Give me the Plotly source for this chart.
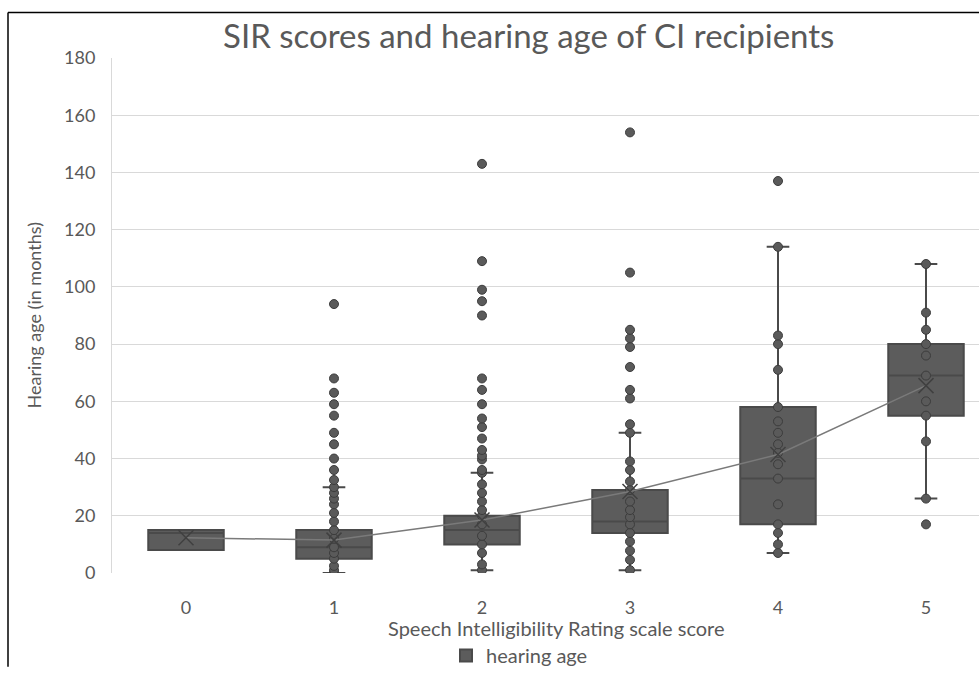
import plotly.graph_objects as go

# ---- data ----
scores = [0, 1, 2, 3, 4, 5]
q1 = [8, 5, 10, 14, 17, 55]
median = [14, 9, 15, 18, 33, 69]
q3 = [15, 15, 20, 29, 58, 80]
lower_whisker = [8, 0, 1, 1, 7, 26]
upper_whisker = [15, 30, 35, 49, 114, 108]
mean = [12.3, 11.5, 18.5, 28.5, 41.4, 65.5]

inner_0 = []
inner_1 = [0, 1, 2.5, 5, 7, 9, 12, 15, 18, 21, 24, 26, 28, 30]
inner_2 = [1, 3, 7, 10, 13, 17, 20, 22, 25, 28, 31, 35]
inner_3 = [1, 4.6, 7.8, 11, 14, 17, 19.5, 22, 25, 29, 32, 36, 39, 49]
inner_4 = [7, 10, 14, 17, 24, 33, 38, 42, 45, 49, 53, 58, 71, 80, 83, 114]
inner_5 = [26, 46, 55, 60, 69, 76, 80, 85, 91, 108]

outliers_0 = []
outliers_1 = [32.5, 36, 40, 45, 49, 55, 59, 63, 68, 94]
outliers_2 = [36, 39.7, 41, 43, 47, 51, 54, 59, 64, 68, 90, 95, 99, 109, 143]
outliers_3 = [52, 61, 64, 72, 79, 82, 85, 105, 154]
outliers_4 = [137]
outliers_5 = [17]

y_ticks = [0, 20, 40, 60, 80, 100, 120, 140, 160, 180]

title_text = "SIR scores and hearing age of CI recipients"
x_title = "Speech Intelligibility Rating scale score"
y_title = "Hearing age (in months)"
series_name = "hearing age"

# ---- styling ----
FONT = "Lato"
TXT = "#595959"
BOX_FILL = "#5c5c5c"
BOX_LINE = "#4a4a4a"
GRID = "#d9d9d9"

inner_all = [inner_0, inner_1, inner_2, inner_3, inner_4, inner_5]
outliers_all = [outliers_0, outliers_1, outliers_2, outliers_3, outliers_4, outliers_5]

fig = go.Figure()

fig.add_trace(go.Box(
    x=scores, q1=q1, median=median, q3=q3,
    lowerfence=lower_whisker, upperfence=upper_whisker,
    width=0.51, whiskerwidth=0.3,
    fillcolor=BOX_FILL, line=dict(color=BOX_LINE, width=2),
    boxpoints=False, showlegend=False, name=series_name,
))

pts_x, pts_y = [], []
for s, inn, out in zip(scores, inner_all, outliers_all):
    for v in inn + out:
        pts_x.append(s)
        pts_y.append(v)

fig.add_trace(go.Scatter(
    x=pts_x, y=pts_y, mode="markers",
    marker=dict(symbol="circle", size=9, color="#5a5a5a",
                line=dict(color="#3c3c3c", width=1)),
    showlegend=False, hoverinfo="y",
))

fig.add_trace(go.Scatter(
    x=scores, y=mean, mode="lines+markers",
    line=dict(color="#7a7a7a", width=1.5),
    marker=dict(symbol="x-thin", size=15, line=dict(color="#404040", width=1.5)),
    showlegend=False,
))

# legend entry (square)
fig.add_trace(go.Scatter(
    x=[None], y=[None], mode="markers", name=series_name,
    marker=dict(symbol="square", size=17, color=BOX_FILL,
                line=dict(color=BOX_LINE, width=1)),
    showlegend=True,
))

L, T, B = 112, 58, 95
W, H = 979, 675
plot_w = W - L
plot_h = H - T - B
px_per_unit = 148.0
x_max = -0.5 + plot_w / px_per_unit

def px_x(p):
    return (p - L) / plot_w

def px_y(p):
    return (H - B - p) / plot_h

fig.update_layout(
    width=W, height=H,
    margin=dict(l=L, r=0, t=T, b=B, pad=0),
    paper_bgcolor="white", plot_bgcolor="white",
    font=dict(family=FONT, color=TXT, size=17),
    showlegend=True,
    legend=dict(orientation="h", x=px_x(446), y=px_y(644), xanchor="left", yanchor="top",
                font=dict(size=20, color=TXT, family=FONT), itemsizing="constant",
                bgcolor="rgba(0,0,0,0)"),
    xaxis=dict(range=[-0.5, x_max], tickmode="array", tickvals=scores,
               ticktext=[str(s) for s in scores], showgrid=False, zeroline=False,
               showline=False, ticks="", tickfont=dict(size=18, color=TXT, family=FONT),
               ticklabelstandoff=22, fixedrange=True),
    yaxis=dict(range=[0, 180], tickmode="array", tickvals=y_ticks,
               showgrid=True, gridcolor=GRID, gridwidth=1, zeroline=False,
               showline=True, linecolor=GRID, linewidth=1, ticks="",
               tickfont=dict(size=18, color=TXT, family=FONT),
               ticklabelstandoff=12, fixedrange=True),
    annotations=[
        dict(text=title_text, x=px_x(528), y=px_y(35), xref="paper", yref="paper",
             showarrow=False, xanchor="center", yanchor="middle",
             font=dict(size=33, color=TXT, family=FONT)),
        dict(text=x_title, x=px_x(556), y=px_y(636), xref="paper", yref="paper",
             showarrow=False, xanchor="center", yanchor="middle",
             font=dict(size=20, color=TXT, family=FONT)),
        dict(text=y_title, x=px_x(33), y=0.5, xref="paper", yref="paper",
             showarrow=False, xanchor="center", yanchor="middle", textangle=-90,
             font=dict(size=18, color=TXT, family=FONT)),
    ],
    shapes=[
        dict(type="line", xref="paper", yref="paper", x0=px_x(8), x1=px_x(8),
             y0=px_y(12), y1=px_y(675), line=dict(color="black", width=1.5)),
        dict(type="line", xref="paper", yref="paper", x0=px_x(8), x1=px_x(979),
             y0=px_y(12), y1=px_y(12), line=dict(color="black", width=1.5)),
    ],
)

fig.write_html("out.html")
